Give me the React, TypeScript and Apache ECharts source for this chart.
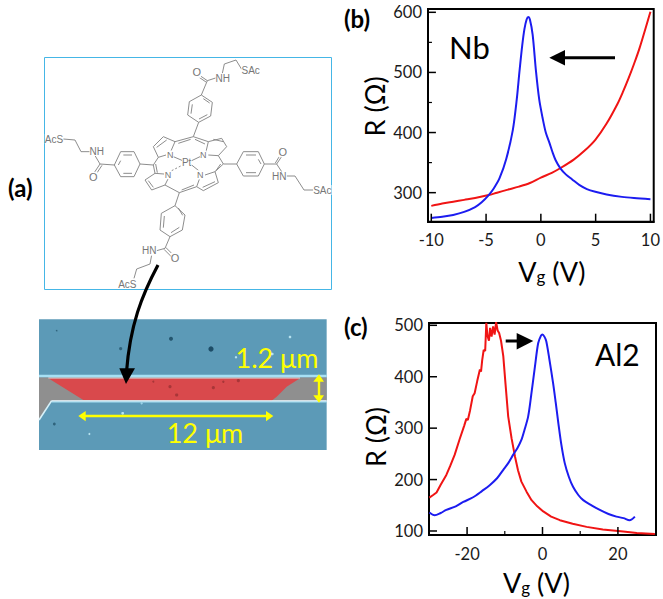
import React, { useEffect, useRef } from "react";
import * as echarts from "echarts";

const FONT = "Lato";

// Panel (b) — Nb
const nbTicksX = [-10, -5, 0, 5, 10];
const nbTicksY = [300, 400, 500, 600];
const nbMinorY = [350, 450, 550];
const nbBlueV = [-10, -9, -8, -7, -6, -5.4, -4.76, -4.3, -3.77, -3.16, -2.56, -2.2, -1.96, -1.7, -1.5, -1.3, -1.14, -1, -0.75, -0.45, -0.15, 0.15, 0.45, 0.8, 1.05, 1.35, 1.8, 2.3, 2.86, 3.5, 4.2, 4.97, 6, 7.4, 8.5, 10];
const nbBlueR = [258, 260, 263, 268, 276, 284, 296, 307, 324, 356, 404, 455, 500, 545, 572, 588, 592, 588, 563, 503, 455, 425, 400, 382, 368, 354, 340, 330, 322, 313, 306, 301.5, 297, 293, 291, 289];
const nbRedV = [-10, -9, -8, -7, -6, -4.76, -4, -3, -2, -1, 0, 1, 1.8, 3, 4, 4.97, 6, 7, 7.5, 8, 8.5, 9, 10];
const nbRedR = [278, 282, 285, 288, 291, 296, 300, 305, 310, 316, 325, 333, 341, 355, 370, 388, 415, 448, 468, 490, 514, 540, 601];

// Panel (c) — Al2
const alTicksX = [-20, 0, 20];
const alMinorX = [-30, -10, 10];
const alTicksY = [100, 200, 300, 400, 500];
const alBlueV = [-30, -28.6, -27, -25.5, -23, -21, -18.4, -16, -14, -12, -10.4, -9, -7.8, -6.6, -5.6, -4.8, -3.8, -3, -2, -1.15, -0.4, 0, 0.5, 1, 1.8, 2.8, 3.5, 4.2, 5, 5.9, 7, 8.1, 9.5, 10.8, 13, 15.2, 17.5, 19.6, 21.5, 23.1, 24.5];
const alBlueR = [136, 130.5, 135, 141, 148, 156.5, 165.6, 178, 189, 203, 219, 233, 248, 262, 277, 296, 323, 364, 420, 465, 480, 482, 478, 469, 435, 388, 350, 310, 268, 232, 205, 186, 170, 160, 150, 141, 133, 128, 125, 121, 128];
const alRedV = [-30, -29, -28.1, -27, -25.5, -24.5, -23.3, -22, -20.8, -20.2, -19.8, -19.2, -18.5, -18, -17.3, -16.6, -16.3, -16, -15.6, -15.2, -14.9, -14.6, -14.2, -13.9, -13.5, -13.1, -12.7, -12.3, -11.9, -11.5, -11, -10.4, -9.8, -9.1, -8.2, -7.3, -6.5, -5.6, -4.2, -2.9, -1.4, 0.2, 2.3, 4.6, 8, 11.7, 16, 21.4, 25, 29.8];
const alRedR = [165, 170, 175, 190, 209, 226, 248, 278, 304, 318, 316, 335, 362, 368, 392, 414, 410, 432, 452, 450, 505, 480, 470, 495, 478, 498, 482, 506, 490, 485, 470, 440, 385, 323, 280, 245, 218, 196, 176, 160, 148, 138, 128, 121, 114, 108, 103, 99, 96, 94];

// Texts
const panelLabels = ["(a)", "(b)", "(c)"];
const xName = "V{sub|g} (V)";
const yName = "R (Ω)";

// Molecule drawing coordinates (illustration, not data)
const bonds: number[][][] = [
  [[600, 107], [622, 122], [650, 113]],
  [[596, 111], [618, 126]],
  [[622, 122], [604, 165]],
  [[667, 100], [673, 72], [708, 60], [725, 88]],
  [[604, 165], [637, 187], [632, 228], [596, 247], [563, 225], [568, 185], [604, 165]],
  [[596, 247], [580, 290]],
  [[580, 290], [525, 305], [490, 290], [460, 320], [475, 352], [460, 375], [465, 400], [435, 420], [455, 450], [495, 435], [538, 458], [590, 440], [610, 452], [655, 428], [645, 395], [670, 372], [655, 347], [680, 320], [665, 295], [625, 305], [580, 290]],
  [[525, 305], [512, 335]], [[475, 352], [498, 345]],
  [[625, 305], [618, 335]], [[655, 347], [625, 345]],
  [[465, 400], [492, 402]], [[495, 435], [505, 415]],
  [[590, 440], [598, 418]], [[645, 395], [615, 405]],
  [[538, 458], [525, 497]],
  [[525, 497], [555, 525], [547, 570], [510, 590], [480, 570], [484, 520], [525, 497]],
  [[510, 590], [495, 625], [470, 632]],
  [[497, 622], [523, 648]], [[492, 628], [518, 654]],
  [[455, 645], [450, 672], [410, 687], [402, 715]],
  [[420, 372], [460, 375]],
  [[343, 375], [362, 335], [402, 335], [420, 372], [402, 410], [362, 410], [343, 375]],
  [[343, 375], [300, 372], [284, 345]],
  [[300, 372], [280, 402]], [[306, 376], [286, 406]],
  [[272, 335], [243, 335], [225, 300], [190, 297]],
  [[670, 372], [710, 372]],
  [[710, 372], [730, 335], [775, 335], [793, 372], [775, 408], [730, 408], [710, 372]],
  [[793, 372], [830, 372], [848, 345]],
  [[826, 369], [842, 343]],
  [[830, 372], [845, 395]],
  [[860, 408], [885, 408], [912, 450], [940, 450]],
  // inner double bonds
  [[610, 176], [629, 189]], [[622, 224], [597, 237]], [[573, 221], [577, 193]],
  [[535, 504], [548, 526]], [[538, 562], [513, 578]], [[490, 563], [493, 528]],
  [[370, 345], [396, 345]], [[370, 400], [396, 400]], [[355, 375], [362, 362]],
  [[738, 345], [768, 345]], [[738, 398], [768, 398]], [[783, 372], [775, 358]],
  [[535, 310], [572, 298]], [[585, 298], [615, 312]], [[500, 300], [470, 322]], [[670, 305], [640, 298]],
  [[467, 372], [472, 398]], [[662, 372], [648, 392]], [[545, 450], [582, 435]], [[445, 422], [460, 442]], [[608, 442], [645, 425]],
];
const dashedBonds: number[][][] = [[[515, 392], [548, 375]]];
const solidToPt: number[][][] = [[[520, 350], [548, 362]], [[600, 350], [575, 362]], [[600, 395], [575, 375]]];
const molLabels: [string, number, number, number][] = [
  ["O", 590, 97, 13], ["NH", 668, 115, 12], ["SAc", 752, 92, 12],
  ["AcS", 162, 297, 12], ["NH", 290, 333, 12], ["O", 280, 412, 13],
  ["O", 848, 335, 13], ["HN", 838, 410, 12], ["SAc", 967, 450, 12],
  ["O", 525, 655, 13], ["HN", 448, 632, 12], ["AcS", 382, 732, 12],
  ["N", 511, 345, 11], ["N", 610, 345, 11], ["N", 504, 404, 11], ["N", 601, 404, 11], ["Pt", 560, 368, 12],
];

const m = (p: number[]) => [p[0] / 3, 40 + p[1] / 3];
const s = (p: number[]) => [20 + p[0] / 3, 270 + p[1] / 3];
const MOL = "#808080";

function molecule() {
  const g: any[] = [
    { type: "rect", shape: { x: 44.5, y: 57.5, width: 287, height: 232 }, style: { fill: "#fff", stroke: "#45b6e6", lineWidth: 1 } },
  ];
  bonds.concat(solidToPt).forEach((b) => g.push({ type: "polyline", shape: { points: b.map(m) }, style: { stroke: MOL, lineWidth: 0.9, fill: "none" } }));
  dashedBonds.forEach((b) => g.push({ type: "polyline", shape: { points: b.map(m) }, style: { stroke: MOL, lineWidth: 0.9, fill: "none", lineDash: [2, 2] } }));
  molLabels.forEach(([t, x, y, f]) => {
    const p = m([x, y]);
    g.push({ type: "text", style: { text: t, x: p[0], y: p[1], fill: "#777", font: `${f - 2}px "Liberation Sans"`, textAlign: "center", textVerticalAlign: "middle", backgroundColor: "#fff" } });
  });
  return g;
}

function poly(points: number[][], fill: string, stroke?: string, lw = 1) {
  return { type: "polygon", shape: { points: points.map(s) }, style: { fill, stroke: stroke || "none", lineWidth: lw } };
}
function line(a: number[], b: number[], stroke: string, lw: number) {
  const pa = s(a), pb = s(b);
  return { type: "line", shape: { x1: pa[0], y1: pa[1], x2: pb[0], y2: pb[1] }, style: { stroke, lineWidth: lw } };
}

function sem() {
  const BLUE = "#5c9ab7", EDGE = "#a6e0f4", Y = "#ffff00";
  const dots: [number, number, number, string][] = [
    [453, 206, 2, "#24566f"], [573, 237, 2.6, "#1c4c66"], [302, 236, 1.6, "#2f637c"], [103, 462, 1.4, "#2f637c"], [110, 182, 0.8, "#2f637c"],
    [810, 201, 1.3, "#b6e2ef"], [757, 252, 1.3, "#b6e2ef"], [648, 262, 1.2, "#b6e2ef"], [308, 430, 1.4, "#b6e2ef"], [208, 492, 1, "#b6e2ef"],
    [365, 400, 1.2, "#9ad2e6"], [450, 350, 1.6, "#a83638"], [580, 353, 1.6, "#a83638"], [655, 332, 1.6, "#a83638"], [610, 335, 1.2, "#a83638"], [400, 335, 1, "#a83638"], [470, 375, 1.6, "#a83638"],
  ];
  return [
    poly([[57, 148], [920, 148], [920, 540], [57, 540]], BLUE),
    poly([[57, 322], [920, 322], [920, 392], [95, 392], [57, 450]], "#8f8f8f"),
    poly([[85, 325], [840, 325], [800, 350], [770, 380], [755, 392], [190, 390]], "#d9494c"),
    line([57, 318], [920, 318], EDGE, 2.4),
    line([85, 324], [840, 324], "#f3eef0", 0.8),
    line([95, 393], [920, 393], "#f2fbff", 1.4),
    line([95, 396], [920, 396], EDGE, 1.2),
    line([57, 450], [95, 392], "#d8f2fa", 1.6),
    ...dots.map(([x, y, r, c]) => {
      const p = s([x, y]);
      return { type: "circle", shape: { cx: p[0], cy: p[1], r }, style: { fill: c } };
    }),
    line([190, 438], [745, 438], Y, 2.4),
    poly([[175, 438], [197, 423], [197, 454]], Y),
    poly([[760, 438], [738, 423], [738, 454]], Y),
    line([897, 330], [897, 382], Y, 2.4),
    poly([[897, 313], [880, 335], [912, 335]], Y),
    poly([[897, 398], [880, 376], [912, 376]], Y),
    { type: "text", style: { text: "1.2 μm", x: 277, y: 357, fill: Y, font: `27px ${FONT}`, textAlign: "center", textVerticalAlign: "middle" } },
    { type: "text", style: { text: "12 μm", x: 205, y: 432, fill: Y, font: `27px ${FONT}`, textAlign: "center", textVerticalAlign: "middle" } },
    { type: "bezierCurve", shape: { x1: 158, y1: 265, cpx1: 142, cpy1: 295, cpx2: 130, cpy2: 325, x2: 126.5, y2: 372 }, style: { stroke: "#000", lineWidth: 3.2, fill: "none" } },
    poly([[298, 295], [345, 295], [318, 342]], "#000"),
  ];
}

function arrows() {
  return [
    { type: "line", shape: { x1: 615, y1: 57.7, x2: 562, y2: 57.7 }, style: { stroke: "#000", lineWidth: 3 } },
    { type: "polygon", shape: { points: [[549.3, 57.7], [565, 50], [565, 65.5]] }, style: { fill: "#000" } },
    { type: "line", shape: { x1: 505.7, y1: 341, x2: 520, y2: 341 }, style: { stroke: "#000", lineWidth: 3 } },
    { type: "polygon", shape: { points: [[533.3, 341], [516.7, 333], [516.7, 349.5]] }, style: { fill: "#000" } },
  ];
}

function labelsG() {
  const t = (text: string, x: number, y: number, font: string, align = "left") => ({
    type: "text",
    style: { text, x, y, fill: "#000", font, textAlign: align, textVerticalAlign: "middle" },
  });
  return [
    t(panelLabels[0], 8, 187, `bold 24px ${FONT}`),
    t(panelLabels[1], 344, 18, `bold 24px ${FONT}`),
    t(panelLabels[2], 344, 326, `bold 24px ${FONT}`),
    t("Nb", 449, 47, `31px ${FONT}`),
    t("Al2", 595, 354, `30px ${FONT}`),
  ];
}

const zip = (a: number[], b: number[]) => a.map((v, i) => [v, b[i]]);
const nameRich = { sub: { fontSize: 17, fontFamily: FONT, color: "#000", verticalAlign: "bottom", padding: [12, 0, 0, 0], lineHeight: 20 } };
const axisLine = { show: true, onZero: false, lineStyle: { color: "#000", width: 2 } };

function baseX(gridIndex: number, min: number, max: number, ticks: number[], nameGap: number, pad: number[]) {
  return {
    type: "value", gridIndex, min, max, name: xName, nameLocation: "middle", nameGap,
    nameTextStyle: { fontFamily: FONT, fontSize: 27, color: "#000", rich: nameRich, padding: pad },
    axisLine,
    axisTick: { show: false },
    axisLabel: { show: true, customValues: ticks, margin: 10, fontFamily: FONT, fontSize: 16.5, color: "#1a1a1a" },
    splitLine: { show: false },
  };
}
function baseY(gridIndex: number, min: number, max: number, ticks: number[], padTop: number, pad: number[]) {
  return {
    type: "value", gridIndex, min, max, position: "left", name: yName, nameLocation: "middle", nameGap: 40,
    nameTextStyle: { fontFamily: FONT, fontSize: 27, color: "#000", padding: pad },
    axisLine,
    axisTick: { show: false },
    axisLabel: { show: true, customValues: ticks, margin: 6, fontFamily: FONT, fontSize: 16.5, color: "#1a1a1a", padding: [padTop, 0, 0, 0] },
    splitLine: { show: false },
  };
}
function series(name: string, axisIndex: number, data: number[][], color: string, smooth: number) {
  return {
    type: "line", name, xAxisIndex: axisIndex, yAxisIndex: axisIndex, data, showSymbol: false, smooth, silent: true,
    lineStyle: { color, width: 2 },
  };
}
// An inward tick as a two-point line in the axes' own units
function tickSeries(axisIndex: number, from: number[], to: number[], width: number) {
  return {
    type: "line", xAxisIndex: axisIndex, yAxisIndex: axisIndex, data: [from, to], showSymbol: false, silent: true, z: 5, clip: false,
    lineStyle: { color: "#000", width },
  };
}

export default function App() {
  const ref = useRef<HTMLDivElement>(null);
  useEffect(() => {
    const chart = echarts.init(ref.current!, undefined, { renderer: "svg" });
    const gridStyle = { show: true, borderColor: "#000", borderWidth: 2, backgroundColor: "transparent", containLabel: false };
    const nb = { xMin: -10.3, xMax: 10.3, yMin: 251.7, yMax: 605.5, w: 228, h: 212.7 };
    const al = { xMin: -30.1, xMax: 30.1, yMin: 92.2, yMax: 504.5, w: 227, h: 212 };
    const dx = (p: typeof nb, px: number) => (px * (p.xMax - p.xMin)) / p.w;
    const dy = (p: typeof nb, px: number) => (px * (p.yMax - p.yMin)) / p.h;
    chart.setOption({
      animation: false,
      backgroundColor: "#fff",
      grid: [
        { ...gridStyle, left: 428, top: 9, width: nb.w, height: nb.h },
        { ...gridStyle, left: 429, top: 323, width: al.w, height: al.h },
      ],
      xAxis: [
        baseX(0, nb.xMin, nb.xMax, nbTicksX, 36, [0, 0, 0, 22]),
        baseX(1, al.xMin, al.xMax, alTicksX, 34, [0, 12, 0, 0]),
      ],
      yAxis: [
        baseY(0, nb.yMin, nb.yMax, nbTicksY, 8, [0, 0, 0, 18]),
        baseY(1, al.yMin, al.yMax, alTicksY, 4, [0, 16, 0, 0]),
      ],
      series: [
        series("Nb red", 0, zip(nbRedV, nbRedR), "#f01414", 0.3),
        series("Nb blue", 0, zip(nbBlueV, nbBlueR), "#1c1cf0", 0.3),
        series("Al2 red", 1, zip(alRedV, alRedR), "#f01414", 0),
        series("Al2 blue", 1, zip(alBlueV, alBlueR), "#1c1cf0", 0.3),
        ...nbTicksX.map((v) => tickSeries(0, [v, nb.yMin], [v, nb.yMin + dy(nb, 8)], 1.5)),
        ...nbTicksY.map((v) => tickSeries(0, [nb.xMin, v], [nb.xMin + dx(nb, 8), v], 1.5)),
        ...nbMinorY.map((v) => tickSeries(0, [nb.xMin, v], [nb.xMin + dx(nb, 4), v], 1.2)),
        ...alTicksX.map((v) => tickSeries(1, [v, al.yMin], [v, al.yMin + dy(al, 8)], 1.5)),
        ...alMinorX.map((v) => tickSeries(1, [v, al.yMin], [v, al.yMin + dy(al, 4)], 1.2)),
        ...alTicksY.map((v) => tickSeries(1, [al.xMin, v], [al.xMin + dx(al, 8), v], 1.5)),
      ],
      graphic: [{ type: "group", silent: true, children: [...molecule(), ...sem(), ...arrows(), ...labelsG()] }],
    });
    return () => chart.dispose();
  }, []);
  return <div ref={ref} style={{ position: "absolute", left: 0, top: 0, width: 663, height: 599 }} />;
}
